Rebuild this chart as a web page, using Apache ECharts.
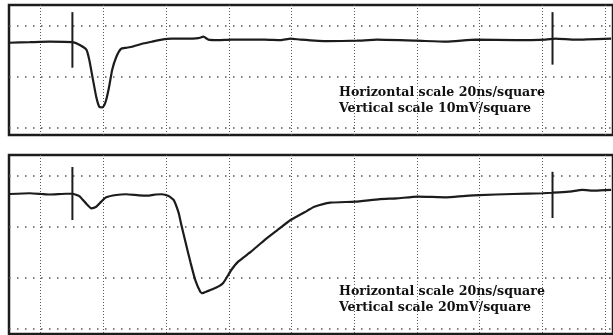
<!DOCTYPE html>
<html>
<head>
<meta charset="utf-8">
<script src="https://cdn.jsdelivr.net/npm/echarts@6/dist/echarts.min.js"></script>
<style>
  html, body { margin: 0; padding: 0; background: #fff; }
  #main { width: 613px; height: 335px; }
</style>
</head>
<body>
<div id="main"></div>
<script>
// graticule: 20 ns per square horizontally
var gridTicksNs = [0, 20, 40, 60, 80, 100, 120, 140, 160, 180];
var topTicksMv = [-10, 0, 10];          // 10 mV / square
var bottomTicksMv = [-20, 0, 20, 40];   // 20 mV / square

// upper trace (ns, mV)
var topTimeNs = [-10, -3.5, 2.8, 10.1, 12.3, 14.6, 15.5, 16.5, 17.7, 18.7, 19.6, 20.3, 20.9, 21.8, 22.8, 24.1,
  25.6, 27.2, 29.1, 32.3, 35.4, 38.6, 41.8, 46.2, 50.3, 51.9, 53.5, 56.6, 60.8, 66.1, 71.5, 76.6, 79.7, 82.9,
  91.5, 100.9, 107.3, 119.9, 129.4, 138.9, 151.6, 161.1, 164.2, 170.6, 182];
var topMv = [6.7, 6.8, 6.9, 6.8, 6.3, 5.3, 3.3, 0, -3.9, -5.9, -6.0, -5.5, -4.5, -2.0, 1.4, 3.9,
  5.5, 5.7, 5.9, 6.5, 6.9, 7.3, 7.5, 7.5, 7.6, 7.9, 7.3, 7.2, 7.3, 7.3, 7.3, 7.2, 7.5, 7.3,
  7.0, 7.1, 7.3, 7.1, 6.9, 7.3, 7.2, 7.3, 7.5, 7.3, 7.5];

// lower trace (ns, mV)
var bottomTimeNs = [-10, -3.5, 0.3, 2.8, 8.2, 10.1, 12.3, 14.6, 16.1, 17.7, 19.3, 20.9, 24.1, 27.2, 31.3, 34.5,
  36.7, 38.6, 40.8, 42.4, 44.0, 44.9, 46.2, 47.8, 49.4, 50.9, 51.6, 52.8, 55.7, 58.2, 60.8, 63.0, 67.1, 71.5,
  75.6, 79.7, 85.1, 87.3, 92.4, 100.3, 108.2, 113.6, 120.3, 129.4, 134.8, 139.9, 150.6, 160.1, 163.3, 168.4,
  172.8, 176.9, 182];
var bottomMv = [32.9, 33.2, 32.9, 32.7, 33.0, 33.0, 32.1, 29.0, 27.3, 27.9, 29.9, 31.6, 32.5, 32.8, 32.4, 32.3,
  32.7, 32.8, 32.1, 30.6, 25.5, 20.6, 14.0, 6.0, -1.2, -5.4, -6.0, -5.4, -4.0, -2.0, 3.1, 6.4, 10.3, 14.9,
  18.8, 22.7, 26.4, 27.9, 29.5, 29.9, 30.9, 31.2, 31.9, 31.6, 32.1, 32.5, 32.9, 33.2, 33.4, 33.8,
  34.5, 34.2, 34.5];

// trigger marks: time and [upper, lower] mV ends
var triggerNs = [10.1, 163.3];
var topTriggerMv = [[12.7, 1.8], [12.7, 2.4]];
var bottomTriggerMv = [[43.5, 22.7], [41.6, 23.5]];

var topLabel = 'Horizontal scale 20ns/square\nVertical scale 10mV/square';
var bottomLabel = 'Horizontal scale 20ns/square\nVertical scale 20mV/square';

function zip(xs, ys) {
  return xs.map(function (x, i) { return [x, ys[i]]; });
}

var ink = '#1c1c1c';
var dotColor = '#555';

function xAxisFor(gi) {
  return {
    type: 'value', gridIndex: gi, min: -10.13, max: 182.6,
    axisLine: { show: false }, axisLabel: { show: false },
    axisTick: { show: false, customValues: gridTicksNs },
    splitLine: { show: true, lineStyle: { color: dotColor, width: 1, type: [1, 2] } }
  };
}
function yAxisFor(gi, min, max, ticks) {
  return {
    type: 'value', gridIndex: gi, min: min, max: max,
    axisLine: { show: false }, axisLabel: { show: false },
    axisTick: { show: false, customValues: ticks },
    splitLine: { show: true, lineStyle: { color: dotColor, width: 1.5, type: [1.5, 6.5] } }
  };
}
function traceSeries(gi, data) {
  return {
    type: 'line', xAxisIndex: gi, yAxisIndex: gi, data: data,
    showSymbol: false, smooth: 0.15, silent: true,
    lineStyle: { color: ink, width: 2.2 }
  };
}
function triggerSeries(gi, ends) {
  return triggerNs.map(function (t, i) {
    return {
      type: 'line', xAxisIndex: gi, yAxisIndex: gi, showSymbol: false, silent: true,
      data: [[t, ends[i][0]], [t, ends[i][1]]],
      lineStyle: { color: ink, width: 2 }
    };
  });
}

var labelStyle = {
  fontFamily: 'DejaVu Serif', fontWeight: 'bold', fontSize: 12.6,
  lineHeight: 15.5, color: '#111'
};

var chart = echarts.init(document.getElementById('main'));
chart.setOption({
  animation: false,
  backgroundColor: '#fff',
  title: [
    { text: topLabel, left: 339, top: 85, padding: 0, textStyle: labelStyle },
    { text: bottomLabel, left: 339, top: 284, padding: 0, textStyle: labelStyle }
  ],
  grid: [
    { left: 9, top: 5, right: -5, height: 130, show: true, borderColor: ink, borderWidth: 2.5 },
    { left: 9, top: 155, right: -5, height: 179, show: true, borderColor: ink, borderWidth: 2.5 }
  ],
  xAxis: [xAxisFor(0), xAxisFor(1)],
  yAxis: [yAxisFor(0, -11.4, 14.1, topTicksMv), yAxisFor(1, -22.0, 48.2, bottomTicksMv)],
  series: [traceSeries(0, zip(topTimeNs, topMv)), traceSeries(1, zip(bottomTimeNs, bottomMv))]
    .concat(triggerSeries(0, topTriggerMv))
    .concat(triggerSeries(1, bottomTriggerMv))
});
</script>
</body>
</html>
